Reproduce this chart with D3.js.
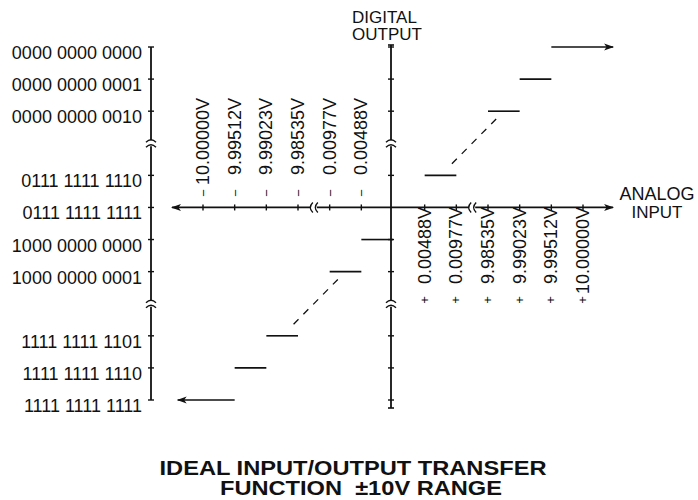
<!DOCTYPE html>
<html>
<head>
<meta charset="utf-8">
<script src="https://cdn.jsdelivr.net/npm/d3@7"></script>
<style>
  body { margin: 0; background: #fff; }
  text { font-family: "Liberation Sans", Arial, sans-serif; fill: #111; }
</style>
</head>
<body>
<div id="chart"></div>
<script>
// output codes on the digital axis (level 3 and 8 are axis breaks)
var codeLabels = ["0000 0000 0000", "0000 0000 0001", "0000 0000 0010",
                  "0111 1111 1110", "0111 1111 1111", "1000 0000 0000", "1000 0000 0001",
                  "1111 1111 1101", "1111 1111 1110", "1111 1111 1111"];
var codeLevels = [0, 1, 2, 4, 5, 6, 7, 9, 10, 11];
var breakLevels = [3, 8];

// analog input ticks (slot index along the input axis)
var negInputs = ["10.00000V", "9.99512V", "9.99023V", "9.98535V", "0.00977V", "0.00488V"];
var negSlots = [-6, -5, -4, -3, -2, -1];
var posInputs = ["0.00488V", "0.00977V", "9.98535V", "9.99023V", "9.99512V", "10.00000V"];
var posSlots = [1, 2, 3, 4, 5, 6];
var inputBreaks = [-2.5, 2.5];

// transfer function steps: code level, input from, input to
var stepLevel = [0, 1, 2, 4, 6, 7, 9, 10, 11];
var stepFrom  = [5, 4, 3, 1, -1, -2, -4, -5, -5];
var stepTo    = [6.95, 5, 4, 2, 0, -1, -3, -4, -6.8];
var stepArrow = [true, false, false, false, false, false, false, false, true];

// dashed ideal line through step midpoints (across the breaks)
var idealFrom = [[1.5, 4], [-3.5, 9]];
var idealTo   = [[3.5, 2], [-1.5, 7]];

var width = 698, height = 500;

var svg = d3.select("#chart")
  .append("svg")
    .attr("width", width)
    .attr("height", height)
    .style("background", "#fff");

var x = d3.scaleLinear().domain([-6, 6]).range([203, 583]);
var y = d3.scaleLinear().domain([0, 11]).range([47, 400]);

var leftX = 151;
var x0 = x(0) - 2, yAxis = y(5);

// arrow marker
svg.append("defs").append("marker")
    .attr("id", "arrow")
    .attr("viewBox", "0 -5 10 10")
    .attr("refX", 9)
    .attr("refY", 0)
    .attr("markerWidth", 10)
    .attr("markerHeight", 10)
    .attr("markerUnits", "userSpaceOnUse")
    .attr("orient", "auto-start-reverse")
  .append("path")
    .attr("d", "M0,-3.5L10,0L0,3.5L2.5,0Z")
    .attr("fill", "#111");

// split a run [a,b] into segments around the breaks
function segments(a, b, breaks, gap) {
  var out = [], s = a;
  breaks.forEach(function(v) { out.push([s, v - gap]); s = v + gap; });
  out.push([s, b]);
  return out;
}

function breakMarkV(g, cx, cy) {
  g.append("path")
    .attr("d", "M" + (cx - 5) + "," + (cy - 1) + "Q" + cx + "," + (cy - 6) + " " + (cx + 5) + "," + (cy - 1)
             + "M" + (cx - 5) + "," + (cy + 4) + "Q" + cx + "," + (cy - 1) + " " + (cx + 5) + "," + (cy + 4))
    .attr("fill", "none").attr("stroke", "#111").attr("stroke-width", 1.4);
}
function breakMarkH(g, cx, cy) {
  g.append("path")
    .attr("d", "M" + (cx - 1) + "," + (cy - 5) + "Q" + (cx - 6) + "," + cy + " " + (cx - 1) + "," + (cy + 5)
             + "M" + (cx + 4) + "," + (cy - 5) + "Q" + (cx - 1) + "," + cy + " " + (cx + 4) + "," + (cy + 5))
    .attr("fill", "none").attr("stroke", "#111").attr("stroke-width", 1.4);
}

// ---------------------------//
//      LEFT CODE AXIS        //
// ---------------------------//
var left = svg.append("g");
segments(y(0), y(11), breakLevels.map(y), 3).forEach(function(s) {
  left.append("line")
    .attr("x1", leftX).attr("x2", leftX)
    .attr("y1", s[0]).attr("y2", s[1])
    .attr("stroke", "#111").attr("stroke-width", 1.8);
});
breakLevels.forEach(function(l) { breakMarkV(left, leftX, y(l)); });

left.selectAll("line.tick")
  .data(codeLevels)
  .enter()
  .append("line")
    .attr("class", "tick")
    .attr("x1", leftX - 3).attr("x2", leftX + 3)
    .attr("y1", function(d) { return y(d); })
    .attr("y2", function(d) { return y(d); })
    .attr("stroke", "#111").attr("stroke-width", 1.4);

left.selectAll("text")
  .data(codeLevels)
  .enter()
  .append("text")
    .attr("x", leftX - 9)
    .attr("y", function(d) { return y(d) + 12; })
    .attr("text-anchor", "end")
    .style("font-size", "18px")
    .text(function(d, i) { return codeLabels[i]; });

// ---------------------------//
//      CENTER DIGITAL AXIS   //
// ---------------------------//
var center = svg.append("g");
segments(y(0) - 2, y(11) + 8, breakLevels.map(y), 3).forEach(function(s) {
  center.append("line")
    .attr("x1", x0).attr("x2", x0)
    .attr("y1", s[0]).attr("y2", s[1])
    .attr("stroke", "#111").attr("stroke-width", 1.8);
});
breakLevels.forEach(function(l) { breakMarkV(center, x0, y(l)); });
center.selectAll("line.tick")
  .data(codeLevels.filter(function(d) { return d !== 5; }))
  .enter()
  .append("line")
    .attr("class", "tick")
    .attr("x1", x0 - 3).attr("x2", x0 + 3)
    .attr("y1", function(d) { return y(d); })
    .attr("y2", function(d) { return y(d); })
    .attr("stroke", "#111").attr("stroke-width", 1.4);
[y(0) - 2, y(11) + 8].forEach(function(v) {
  center.append("line")
    .attr("x1", x0 - 3).attr("x2", x0 + 3)
    .attr("y1", v).attr("y2", v)
    .attr("stroke", "#111").attr("stroke-width", 1.6);
});

center.append("text").attr("x", 352).attr("y", 23).style("font-size", "17px").text("DIGITAL");
center.append("text").attr("x", 352).attr("y", 40).style("font-size", "17px").text("OUTPUT");

// ---------------------------//
//      ANALOG INPUT AXIS     //
// ---------------------------//
var axis = svg.append("g");
var hsegs = segments(x(-6.98), x(6.95), inputBreaks.map(x), 3);
hsegs.forEach(function(s, i) {
  var ln = axis.append("line")
    .attr("x1", s[0]).attr("x2", s[1])
    .attr("y1", yAxis).attr("y2", yAxis)
    .attr("stroke", "#111").attr("stroke-width", 1.8);
  if (i === 0) ln.attr("marker-start", "url(#arrow)");
  if (i === hsegs.length - 1) ln.attr("marker-end", "url(#arrow)");
});
inputBreaks.forEach(function(b) { breakMarkH(axis, x(b), yAxis); });

axis.selectAll("line.tick")
  .data(negSlots.concat(posSlots))
  .enter()
  .append("line")
    .attr("class", "tick")
    .attr("x1", function(d) { return x(d); })
    .attr("x2", function(d) { return x(d); })
    .attr("y1", yAxis - 3).attr("y2", yAxis + 3)
    .attr("stroke", "#111").attr("stroke-width", 1.4);

// negative side labels, above the axis
axis.selectAll("text.neg")
  .data(negSlots)
  .enter()
  .append("text")
    .attr("class", "neg")
    .attr("transform", function(d) { return "translate(" + (x(d) + 6) + "," + 98 + ") rotate(-90)"; })
    .attr("text-anchor", "end")
    .style("font-size", "18px")
    .text(function(d, i) { return negInputs[i]; });
axis.selectAll("text.negsign")
  .data(negSlots)
  .enter()
  .append("text")
    .attr("class", "negsign")
    .attr("transform", function(d) { return "translate(" + (x(d) + 5) + "," + 193 + ") rotate(-90)"; })
    .attr("text-anchor", "middle")
    .style("font-size", "13px")
    .text("\u2212");

// positive side labels, below the axis
axis.selectAll("text.pos")
  .data(posSlots)
  .enter()
  .append("text")
    .attr("class", "pos")
    .attr("transform", function(d) { return "translate(" + (x(d) + 6) + "," + 207 + ") rotate(-90)"; })
    .attr("text-anchor", "end")
    .style("font-size", "18px")
    .text(function(d, i) { return posInputs[i]; });
axis.selectAll("text.possign")
  .data(posSlots)
  .enter()
  .append("text")
    .attr("class", "possign")
    .attr("transform", function(d) { return "translate(" + (x(d) + 4) + "," + 300 + ") rotate(-90)"; })
    .attr("text-anchor", "middle")
    .style("font-size", "13px")
    .text("+");

axis.append("text").attr("x", 657).attr("y", 200).attr("text-anchor", "middle").style("font-size", "18px").text("ANALOG");
axis.append("text").attr("x", 657).attr("y", 218).attr("text-anchor", "middle").style("font-size", "17px").text("INPUT");

// ---------------------------//
//      STEPS                 //
// ---------------------------//
svg.append("g")
  .selectAll("line")
  .data(stepLevel)
  .enter()
  .append("line")
    .attr("x1", function(d, i) { return x(stepFrom[i]); })
    .attr("x2", function(d, i) { return x(stepTo[i]); })
    .attr("y1", function(d) { return y(d); })
    .attr("y2", function(d) { return y(d); })
    .attr("stroke", "#111")
    .attr("stroke-width", 1.6)
    .attr("marker-end", function(d, i) { return stepArrow[i] ? "url(#arrow)" : null; });

// dashed ideal line, only the middle part
var t0 = 0.18, t1 = 0.92;
svg.append("g")
  .selectAll("line")
  .data(idealFrom)
  .enter()
  .append("line")
    .attr("x1", function(d, i) { return x(d[0] + (idealTo[i][0] - d[0]) * t0); })
    .attr("y1", function(d, i) { return y(d[1] + (idealTo[i][1] - d[1]) * t0); })
    .attr("x2", function(d, i) { return x(d[0] + (idealTo[i][0] - d[0]) * t1); })
    .attr("y2", function(d, i) { return y(d[1] + (idealTo[i][1] - d[1]) * t1); })
    .attr("stroke", "#111")
    .attr("stroke-width", 1.3)
    .style("stroke-dasharray", "7,7");

// ---------------------------//
//      TITLE                 //
// ---------------------------//
svg.append("text")
  .attr("x", 353).attr("y", 475)
  .attr("text-anchor", "middle")
  .attr("textLength", 387)
  .attr("lengthAdjust", "spacingAndGlyphs")
  .style("font-size", "21px").style("font-weight", "bold")
  .text("IDEAL INPUT/OUTPUT TRANSFER");
svg.append("text")
  .attr("x", 361).attr("y", 495)
  .attr("text-anchor", "middle")
  .attr("textLength", 282)
  .attr("lengthAdjust", "spacingAndGlyphs")
  .style("font-size", "21px").style("font-weight", "bold")
  .style("white-space", "pre")
  .text("FUNCTION  \u00b110V RANGE");
</script>
</body>
</html>
